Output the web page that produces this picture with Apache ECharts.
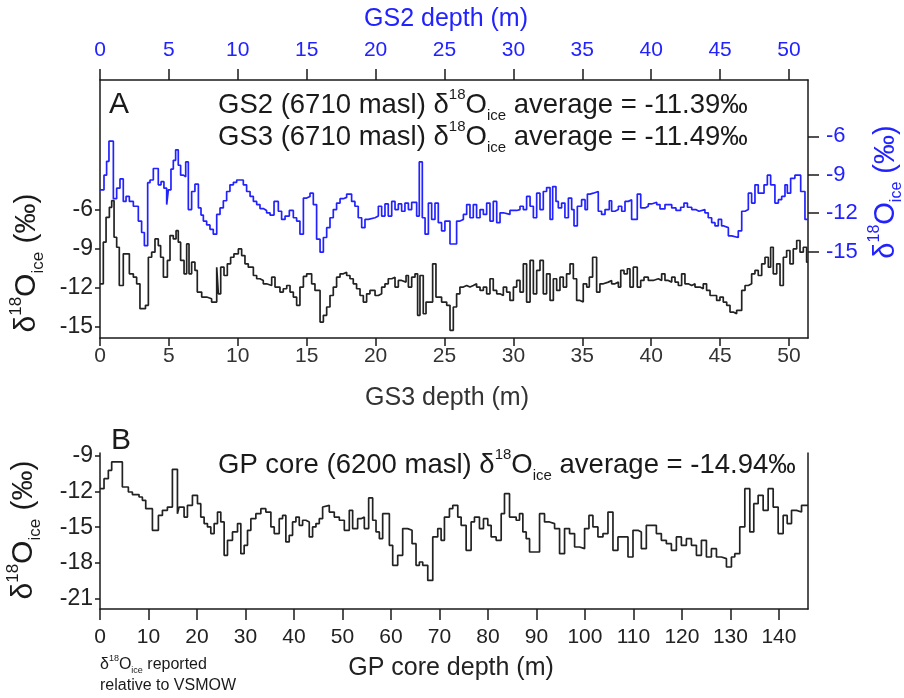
<!DOCTYPE html>
<html>
<head>
<meta charset="utf-8">
<script src="https://cdn.jsdelivr.net/npm/echarts@6/dist/echarts.min.js"></script>
<style>
html,body{margin:0;padding:0;background:#fff;}
#chart{width:904px;height:698px;}
</style>
</head>
<body>
<div id="chart"></div>
<script>
// GS2 (blue, top axis depth / right axis value): [depth start of step (m), d18O (permil)]
const gs2 = [[0,-10.18],[0.29,-9.03],[0.48,-7.95],[0.65,-6.38],[0.97,-10.87],[1.21,-10.05],[1.45,-9.33],[1.69,-11.08],[1.89,-10.69],[2.13,-11.08],
[2.42,-11.46],[2.78,-12.62],[3.02,-13.51],[3.22,-14.54],[3.46,-9.62],[3.63,-9.41],[3.87,-8.51],[4.23,-9.79],[4.43,-9.54],[4.64,-10.05],
[4.84,-11.33],[4.96,-10.18],[5.15,-8.56],[5.32,-7.87],[5.49,-7.05],[5.68,-8.26],[5.85,-9.03],[6.05,-9.15],[6.22,-8.0],[6.41,-11.72],
[6.65,-10.31],[6.89,-9.74],[7.14,-11.59],[7.33,-12.15],[7.50,-12.62],[7.74,-12.92],[7.98,-13.26],[8.22,-13.64],[8.47,-12.10],[8.71,-11.59],
[8.95,-11.03],[9.19,-10.31],[9.43,-9.79],[9.68,-9.59],[9.92,-9.41],[10.40,-9.79],[10.64,-10.31],[10.89,-10.69],[11.13,-11.08],[11.37,-11.33],
[11.61,-11.64],[11.85,-11.79],[12.09,-11.97],[12.34,-12.15],[12.63,-11.08],[12.94,-11.85],[13.18,-12.49],[13.43,-12.23],[13.74,-11.79],[14.03,-12.36],
[14.27,-12.62],[14.51,-13.64],[14.76,-10.82],[15.00,-10.69],[15.24,-10.44],[15.48,-11.33],[15.72,-14.03],[15.97,-15.05],[16.21,-13.90],[16.45,-13.13],
[16.69,-12.36],[16.93,-11.72],[17.17,-11.21],[17.42,-10.87],[17.66,-10.77],[17.90,-10.51],[18.26,-11.08],[18.50,-11.46],[18.74,-12.36],[18.99,-13.13],
[19.23,-12.49],[19.47,-12.36],[19.96,-12.23],[20.20,-11.46],[20.44,-12.23],[20.68,-11.28],[20.92,-12.23],[21.17,-11.08],[21.41,-11.72],[21.65,-11.28],
[21.89,-11.85],[22.13,-11.21],[22.38,-11.72],[22.62,-11.15],[22.98,-12.23],[23.17,-8.0],[23.39,-12.36],[23.59,-13.64],[23.83,-11.21],[24.07,-12.49],
[24.31,-11.21],[24.55,-12.74],[24.79,-13.38],[25.03,-12.62],[25.40,-14.41],[25.88,-12.62],[26.12,-12.49],[26.37,-12.10],[26.61,-11.33],[26.85,-12.36],
[27.09,-11.33],[27.33,-12.36],[27.58,-11.72],[27.82,-12.10],[28.06,-11.21],[28.30,-12.62],[28.54,-11.08],[28.79,-12.74],[29.03,-11.97],[29.27,-12.10],
[29.75,-11.79],[30.24,-11.72],[30.48,-11.46],[30.72,-11.72],[30.96,-10.69],[31.21,-11.46],[31.45,-12.36],[31.69,-10.44],[31.93,-11.72],[32.17,-10.31],
[32.41,-10.0],[32.66,-12.49],[32.85,-9.92],[33.09,-11.08],[33.26,-11.59],[33.50,-11.21],[33.74,-12.36],[33.99,-10.82],[34.23,-11.72],[34.40,-13.0],
[34.64,-11.46],[34.95,-10.95],[35.20,-11.72],[35.37,-10.51],[35.56,-10.44],[35.80,-10.31],[36.16,-11.85],[36.40,-12.10],[36.65,-11.72],[36.96,-11.03],
[37.13,-11.85],[37.37,-11.72],[37.62,-11.46],[37.86,-11.85],[38.10,-11.08],[38.34,-10.95],[38.58,-12.49],[38.99,-10.51],[39.24,-11.59],[39.55,-11.46],
[39.79,-11.28],[40.03,-11.15],[40.40,-11.33],[40.64,-11.67],[41.00,-11.33],[41.49,-11.59],[41.80,-11.79],[42.14,-11.54],[42.38,-11.21],[42.63,-11.54],
[42.94,-11.72],[43.23,-11.85],[43.47,-11.72],[43.90,-11.97],[44.14,-12.36],[44.39,-12.74],[44.63,-13.0],[44.87,-12.49],[45.11,-13.0],[45.28,-13.13],
[45.60,-13.77],[45.84,-13.90],[46.32,-13.38],[46.57,-11.85],[46.81,-11.72],[47.05,-10.44],[47.29,-11.21],[47.53,-9.79],[47.77,-10.44],[48.19,-9.79],
[48.43,-9.03],[48.67,-9.79],[48.98,-11.21],[49.23,-10.95],[49.47,-10.69],[49.71,-9.79],[49.88,-10.44],[50.12,-9.28],[50.43,-9.03],[50.85,-10.31],
[51.16,-12.49]];

// GS3 (black, bottom axis depth / left axis value)
const gs3 = [[0,-11.72],[0.24,-8.51],[0.44,-6.59],[0.68,-5.82],[0.85,-5.31],[1.02,-8.13],[1.21,-8.90],[1.40,-11.85],[1.69,-9.41],[2.13,-10.95],
[2.42,-11.21],[2.66,-11.72],[2.90,-13.64],[3.30,-13.38],[3.51,-9.67],[3.75,-9.28],[3.99,-8.26],[4.23,-8.77],[4.40,-9.67],[4.60,-11.21],
[4.89,-9.92],[5.08,-8.0],[5.32,-8.26],[5.52,-7.62],[5.68,-8.51],[5.85,-9.92],[6.10,-10.95],[6.29,-8.64],[6.46,-10.95],[6.65,-10.05],
[6.89,-10.69],[7.06,-12.36],[7.38,-12.74],[7.74,-12.87],[8.10,-13.13],[8.47,-10.44],[8.59,-12.49],[8.76,-10.44],[9.00,-11.08],[9.24,-10.18],
[9.48,-9.67],[9.72,-9.41],[10.04,-9.03],[10.28,-9.54],[10.52,-10.18],[10.76,-10.44],[11.13,-11.08],[11.37,-11.33],[11.61,-11.46],[11.85,-11.72],
[12.09,-11.85],[12.46,-11.21],[12.70,-11.97],[13.06,-12.36],[13.30,-12.10],[13.55,-11.85],[13.79,-12.36],[14.03,-12.74],[14.27,-13.38],[14.51,-11.97],
[14.76,-11.15],[15.00,-10.95],[15.36,-11.72],[15.60,-12.23],[15.97,-14.67],[16.21,-14.15],[16.45,-13.51],[16.69,-12.62],[16.93,-11.97],[17.17,-11.21],
[17.42,-10.95],[17.66,-10.82],[17.90,-11.08],[18.14,-11.33],[18.38,-11.72],[18.62,-12.10],[18.87,-12.62],[19.11,-13.13],[19.35,-12.49],[19.59,-12.23],
[19.96,-12.62],[20.20,-12.49],[20.44,-11.97],[20.68,-11.72],[20.92,-11.33],[21.17,-11.21],[21.41,-11.97],[21.65,-11.46],[21.89,-11.59],[22.21,-11.08],
[22.38,-11.97],[22.62,-11.21],[22.86,-10.95],[23.05,-14.15],[23.22,-11.08],[23.46,-14.03],[23.66,-13.13],[24.14,-10.18],[24.38,-12.74],[24.79,-13.13],
[25.16,-13.38],[25.40,-15.31],[25.64,-13.51],[25.88,-12.49],[26.12,-11.97],[26.37,-11.85],[26.61,-11.97],[26.85,-11.85],[27.09,-11.72],[27.33,-11.97],
[27.58,-12.23],[27.82,-11.97],[28.06,-12.49],[28.30,-11.33],[28.54,-12.23],[28.79,-12.49],[29.03,-12.62],[29.27,-11.97],[29.51,-12.36],[29.75,-13.0],
[30.00,-11.97],[30.24,-11.46],[30.48,-12.36],[30.72,-10.18],[30.96,-13.13],[31.21,-9.92],[31.45,-12.49],[31.69,-10.69],[31.93,-9.92],[32.17,-12.49],
[32.41,-10.95],[32.66,-13.0],[32.90,-11.33],[33.14,-12.23],[33.38,-11.21],[33.62,-11.97],[33.86,-10.95],[34.11,-10.18],[34.35,-11.33],[34.59,-13.0],
[34.83,-13.13],[35.07,-11.72],[35.32,-11.97],[35.51,-11.21],[35.75,-9.67],[36.04,-12.36],[36.28,-11.72],[36.53,-11.59],[36.89,-11.46],[37.13,-11.72],
[37.37,-11.59],[37.62,-11.97],[37.79,-10.69],[38.03,-10.95],[38.27,-10.56],[38.46,-11.97],[38.70,-10.44],[38.99,-11.97],[39.24,-11.46],[39.48,-11.21],
[39.79,-11.46],[40.15,-11.33],[40.52,-11.46],[40.76,-10.95],[41.00,-11.46],[41.24,-11.59],[41.49,-11.21],[41.73,-11.59],[41.97,-11.85],[42.21,-10.95],
[42.45,-11.72],[42.69,-11.85],[42.94,-11.72],[43.18,-11.97],[43.54,-12.10],[43.78,-11.72],[44.02,-12.23],[44.27,-12.62],[44.75,-13.0],[44.99,-12.74],
[45.23,-13.13],[45.48,-13.38],[45.72,-13.90],[45.96,-14.03],[46.20,-13.77],[46.57,-12.23],[46.81,-11.85],[47.05,-11.72],[47.29,-10.95],[47.53,-10.69],
[47.77,-11.08],[48.02,-10.18],[48.26,-9.67],[48.50,-10.44],[48.67,-8.90],[48.86,-10.95],[49.11,-10.18],[49.35,-11.85],[49.59,-9.67],[49.83,-9.15],
[50.07,-10.18],[50.31,-9.03],[50.56,-8.38],[50.80,-9.28],[51.04,-8.90],[51.28,-10.05]];

// GP core (panel B)
const gp = [[0,-11.77],[0.83,-10.93],[1.72,-10.23],[2.41,-9.53],[4.61,-11.63],[5.85,-12.05],[6.68,-12.27],[8.05,-12.47],[8.74,-12.75],[9.43,-13.45],
[10.81,-15.26],[12.04,-14.01],[12.87,-13.59],[13.90,-13.31],[14.93,-10.15],[15.97,-13.87],[16.31,-13.31],[17.34,-14.15],[18.03,-13.17],[19.06,-12.33],
[20.10,-13.03],[20.78,-14.15],[21.47,-14.70],[22.16,-14.98],[22.85,-15.54],[23.54,-14.70],[24.23,-13.73],[24.91,-14.56],[25.60,-17.36],[26.29,-16.10],
[27.32,-15.40],[28.36,-14.70],[29.04,-17.22],[29.73,-16.52],[30.42,-15.26],[31.11,-14.29],[32.14,-13.87],[33.17,-13.45],[34.20,-13.73],[35.24,-14.98],
[35.93,-15.54],[36.96,-14.29],[37.65,-14.01],[38.33,-16.24],[39.02,-15.68],[39.71,-14.56],[40.40,-14.15],[41.09,-14.84],[41.78,-14.42],[42.46,-14.56],
[43.15,-15.82],[43.84,-14.98],[44.53,-14.70],[45.22,-14.29],[45.91,-13.31],[46.25,-13.17],[47.28,-13.73],[48.31,-14.15],[49.35,-14.42],[50.38,-15.26],
[51.41,-13.59],[52.10,-15.12],[53.13,-14.29],[53.82,-14.15],[54.51,-15.12],[55.40,-12.55],[56.23,-14.42],[56.92,-15.40],[57.61,-15.96],[58.29,-13.87],
[59.67,-16.52],[60.36,-18.20],[61.39,-17.36],[62.42,-15.12],[63.45,-15.26],[64.35,-16.38],[65.17,-18.20],[65.86,-17.92],[66.55,-18.20],[67.59,-19.46],
[68.62,-15.82],[69.65,-15.12],[70.34,-16.10],[71.03,-14.15],[72.06,-13.45],[72.75,-13.17],[73.78,-14.15],[74.47,-14.84],[75.50,-16.94],[76.53,-14.56],
[77.22,-14.15],[78.25,-15.12],[79.08,-14.29],[79.97,-14.84],[80.66,-15.82],[81.69,-16.10],[82.73,-13.87],[83.41,-12.19],[84.45,-14.15],[85.82,-14.42],
[86.51,-13.87],[87.20,-15.40],[87.89,-15.96],[88.58,-17.08],[90.64,-13.87],[91.67,-14.56],[92.70,-14.70],[93.74,-15.12],[94.77,-17.22],[95.80,-15.12],
[96.83,-15.54],[97.87,-16.66],[98.90,-16.80],[99.93,-15.12],[100.83,-14.01],[101.65,-14.98],[102.68,-15.82],[103.72,-15.54],[104.75,-13.73],[105.78,-16.94],
[106.81,-15.82],[108.88,-17.50],[109.91,-15.26],[110.94,-15.40],[111.63,-16.80],[112.66,-14.84],[114.73,-15.54],[115.76,-16.10],[116.79,-16.38],[117.83,-16.94],
[118.86,-15.82],[119.89,-16.52],[120.92,-15.96],[121.96,-16.52],[122.99,-17.36],[124.02,-16.10],[125.05,-17.50],[126.08,-16.80],[127.12,-17.50],[128.15,-17.64],
[129.18,-18.34],[130.21,-17.50],[130.90,-17.22],[131.93,-14.98],[132.97,-11.77],[134.00,-15.40],[134.82,-13.03],[135.72,-12.33],[136.75,-13.59],[137.78,-11.77],
[138.82,-13.31],[139.85,-15.54],[140.88,-14.01],[141.71,-14.70],[142.60,-13.59],[143.63,-13.73],[144.67,-13.17]];

const gsTicks = [0,5,10,15,20,25,30,35,40,45,50];
const gpTicks = [0,10,20,30,40,50,60,70,80,90,100,110,120,130,140];
const topLeftTicks = [-15,-12,-9,-6];
const topRightTicks = [-15,-12,-9,-6];
const gpYTicks = [-21,-18,-15,-12,-9];

const GS_MAX = 51.38, GP_MAX = 146;
const FONT = "'Liberation Sans', Arial, sans-serif";
const BLUE = '#2222ff';
const DARK = '#1a1a1a';

function closeSteps(arr, end){ const a = arr.slice(); a.push([end, arr[arr.length-1][1]]); return a; }

function richDelta(size, color){
  return {
    m:{fontSize:size, fontFamily:FONT, fill:color, color:color, lineHeight:Math.round(size*1.3), verticalAlign:'middle'},
    s:{fontSize:Math.round(size*0.55), fontFamily:FONT, fill:color, color:color, lineHeight:Math.round(size*0.6), verticalAlign:'top'},
    i:{fontSize:Math.round(size*0.55), fontFamily:FONT, fill:color, color:color, lineHeight:Math.round(size*0.6), verticalAlign:'bottom'}
  };
}
function txt(x,y,text,size,color,align,rot){
  const el = {type:'text', x:x, y:y, style:{text:text, rich:richDelta(size,color), fill:color, fontSize:size, fontFamily:FONT, align:align||'left', verticalAlign:'middle'}};
  if (rot) el.rotation = rot;
  return el;
}
const deltaLabel = '{m|δ}{s|18}{m|O}{i|ice}{m| (‰)}';

function axLine(){ return {show:true, onZero:false, lineStyle:{color:DARK, width:1.5}}; }
function ticks(len, vals){ return {show:true, length:len, lineStyle:{color:DARK, width:1.5}, customValues:vals}; }
function labels(vals, size, color, margin){ return {customValues:vals, fontSize:size, fontFamily:FONT, color:color, margin:margin}; }

const chart = echarts.init(document.getElementById('chart'), null, {renderer:'canvas'});
const option = {
  backgroundColor:'#fff',
  animation:false,
  grid:[
    {left:100, width:708, top:80, height:258},
    {left:100, width:708, top:453, height:156}
  ],
  xAxis:[
    {type:'value', gridIndex:0, position:'bottom', min:0, max:GS_MAX,
     axisLine:axLine(), splitLine:{show:false}, axisTick:ticks(8, gsTicks), axisLabel:labels(gsTicks, 21, '#333', 8)},
    {type:'value', gridIndex:0, position:'top', min:0, max:GS_MAX,
     axisLine:axLine(), splitLine:{show:false}, axisTick:ticks(11, gsTicks), axisLabel:labels(gsTicks, 21, BLUE, 19)},
    {type:'value', gridIndex:1, position:'bottom', min:0, max:GP_MAX,
     axisLine:axLine(), splitLine:{show:false}, axisTick:ticks(11, gpTicks), axisLabel:labels(gpTicks, 21, '#222', 18)}
  ],
  yAxis:[
    {type:'value', gridIndex:0, position:'left', min:-15.9, max:4.0,
     axisLine:axLine(), splitLine:{show:false}, axisTick:ticks(5, topLeftTicks), axisLabel:labels(topLeftTicks, 23, '#222', 7)},
    {type:'value', gridIndex:0, position:'right', min:-21.75, max:-1.6,
     axisLine:axLine(), splitLine:{show:false}, axisTick:ticks(11, topRightTicks), axisLabel:labels(topRightTicks, 22, BLUE, 18)},
    {type:'value', gridIndex:1, position:'left', min:-21.86, max:-8.78,
     axisLine:axLine(), splitLine:{show:false}, axisTick:ticks(5, gpYTicks), axisLabel:labels(gpYTicks, 23, '#222', 7)},
    {type:'value', gridIndex:1, position:'right', min:-21.86, max:-8.78,
     axisLine:axLine(), splitLine:{show:false}, axisTick:{show:false}, axisLabel:{show:false}}
  ],
  series:[
    {type:'line', name:'GS3', xAxisIndex:0, yAxisIndex:0, step:'end', showSymbol:false, silent:true,
     data:closeSteps(gs3, GS_MAX), lineStyle:{color:'#222', width:1.7}},
    {type:'line', name:'GS2', xAxisIndex:1, yAxisIndex:1, step:'end', showSymbol:false, silent:true,
     data:closeSteps(gs2, GS_MAX), lineStyle:{color:BLUE, width:1.7}},
    {type:'line', name:'GP', xAxisIndex:2, yAxisIndex:2, step:'end', showSymbol:false, silent:true,
     data:closeSteps(gp, GP_MAX), lineStyle:{color:'#222', width:1.7}}
  ],
  graphic:[
    txt(446, 19, '{m|GS2 depth (m)}', 25, BLUE, 'center'),
    txt(109, 105, '{m|A}', 30, DARK),
    txt(218, 105, '{m|GS2 (6710 masl) δ}{s|18}{m|O}{i|ice}{m| average = -11.39‰}', 27.5, DARK),
    txt(218, 137, '{m|GS3 (6710 masl) δ}{s|18}{m|O}{i|ice}{m| average = -11.49‰}', 27.5, DARK),
    txt(27, 263, deltaLabel, 30, DARK, 'center', Math.PI/2),
    txt(886, 192, deltaLabel, 29, BLUE, 'center', Math.PI/2),
    txt(447, 398, '{m|GS3 depth (m)}', 25, '#333', 'center'),
    txt(111, 441, '{m|B}', 30, DARK),
    txt(218, 465, '{m|GP core (6200 masl) δ}{s|18}{m|O}{i|ice}{m| average = -14.94‰}', 27.5, DARK),
    txt(24, 530, deltaLabel, 30, DARK, 'center', Math.PI/2),
    txt(451, 668, '{m|GP core depth (m)}', 25, '#222', 'center'),
    txt(100, 665, '{m|δ}{s|18}{m|O}{i|ice}{m| reported}', 16, DARK),
    txt(100, 686, '{m|relative to VSMOW}', 16, DARK)
  ]
};
chart.setOption(option);
</script>
</body>
</html>
